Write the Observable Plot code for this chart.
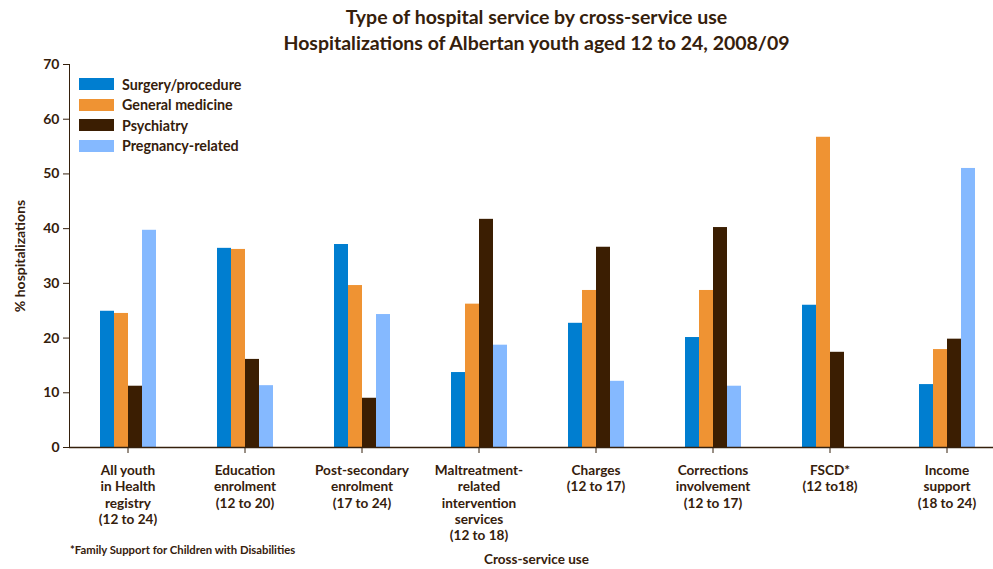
<!DOCTYPE html>
<html><head><meta charset="utf-8">
<script src="https://cdn.jsdelivr.net/npm/d3@7"></script>
<script src="https://cdn.jsdelivr.net/npm/@observablehq/plot@0.6"></script>
<style>
body{margin:0;background:#fff;font-family:Lato,sans-serif;color:#35200c;}
#wrap{position:relative;width:993px;height:569px;overflow:hidden;}
#title{position:absolute;left:68px;width:937px;top:4px;text-align:center;font-weight:bold;font-size:19.5px;line-height:26px;}
#chart{position:absolute;left:0;top:54px;}
#legend{position:absolute;left:79px;top:74px;font-weight:bold;font-size:14.3px;}
#legend .row{height:20.5px;display:flex;align-items:center;}
#legend .sw{width:35px;height:12px;margin-right:8px;}
#foot{position:absolute;left:70px;top:543px;font-weight:bold;font-size:11.3px;}
#xlab{position:absolute;left:68px;width:937px;text-align:center;top:551px;font-weight:bold;font-size:13.5px;}
</style></head>
<body>
<div id="wrap">
  <div id="title">Type of hospital service by cross-service use<br>Hospitalizations of Albertan youth aged 12 to 24, 2008/09</div>
  <div id="chart"></div>
  <div id="legend"></div>
  <div id="foot">*Family Support for Children with Disabilities</div>
  <div id="xlab">Cross-service use</div>
</div>
<script>
const categories = [
  "All youth\nin Health\nregistry\n(12 to 24)",
  "Education\nenrolment\n(12 to 20)",
  "Post-secondary\nenrolment\n(17 to 24)",
  "Maltreatment-\nrelated\nintervention\nservices\n(12 to 18)",
  "Charges\n(12 to 17)",
  "Corrections\ninvolvement\n(12 to 17)",
  "FSCD*\n(12 to18)",
  "Income\nsupport\n(18 to 24)"
];
const series = ["Surgery/procedure", "General medicine", "Psychiatry", "Pregnancy-related"];
const surgery = [24.9, 36.4, 37.1, 13.7, 22.7, 20.1, 26.0, 11.5];
const generalMedicine = [24.5, 36.2, 29.6, 26.2, 28.7, 28.7, 56.7, 17.9];
const psychiatry = [11.2, 16.1, 9.0, 41.7, 36.6, 40.2, 17.4, 19.8];
const pregnancy = [39.7, 11.3, 24.3, 18.7, 12.1, 11.2, null, 51.0];
const yTicks = [0, 10, 20, 30, 40, 50, 60, 70];
const colors = ["#007ed0", "#ef9333", "#3b1e02", "#85b9ff"];

const valuesBySeries = [surgery, generalMedicine, psychiatry, pregnancy];
const rows = [];
categories.forEach((c, i) => {
  series.forEach((s, j) => {
    const v = valuesBySeries[j][i];
    if (v != null) rows.push({cat: c, series: s, value: v});
  });
});

const chart = Plot.plot({
  width: 993,
  height: 515,
  marginLeft: 68,
  marginRight: -12,
  marginTop: 10,
  marginBottom: 122,
  style: {fontFamily: "Lato, sans-serif", fontSize: "14px", fontWeight: "bold", color: "#35200c", background: "transparent", overflow: "visible"},
  fx: {domain: categories, paddingInner: 0, paddingOuter: 0, axis: null},
  x: {domain: series, paddingInner: 0, paddingOuter: 1.96, axis: null},
  y: {domain: [0, 70], ticks: yTicks, tickSize: 6, tickPadding: 4, line: true,
      label: "% hospitalizations", labelAnchor: "center", labelArrow: "none", labelOffset: 54},
  color: {domain: series, range: colors},
  marks: [
    Plot.barY(rows, {fx: "cat", x: "series", y: "value", fill: "series"}),
    Plot.ruleY([0], {stroke: "#35200c", strokeWidth: 1.5}),
    Plot.axisFx({anchor: "bottom", tickSize: 6, tickPadding: 10, lineHeight: 1.2, fontSize: 13.6, label: null})
  ]
});
document.getElementById("chart").appendChild(chart);

const legend = document.getElementById("legend");
series.forEach((s, j) => {
  const r = document.createElement("div");
  r.className = "row";
  r.innerHTML = `<div class="sw" style="background:${colors[j]}"></div><span>${s}</span>`;
  legend.appendChild(r);
});
</script>
</body></html>
